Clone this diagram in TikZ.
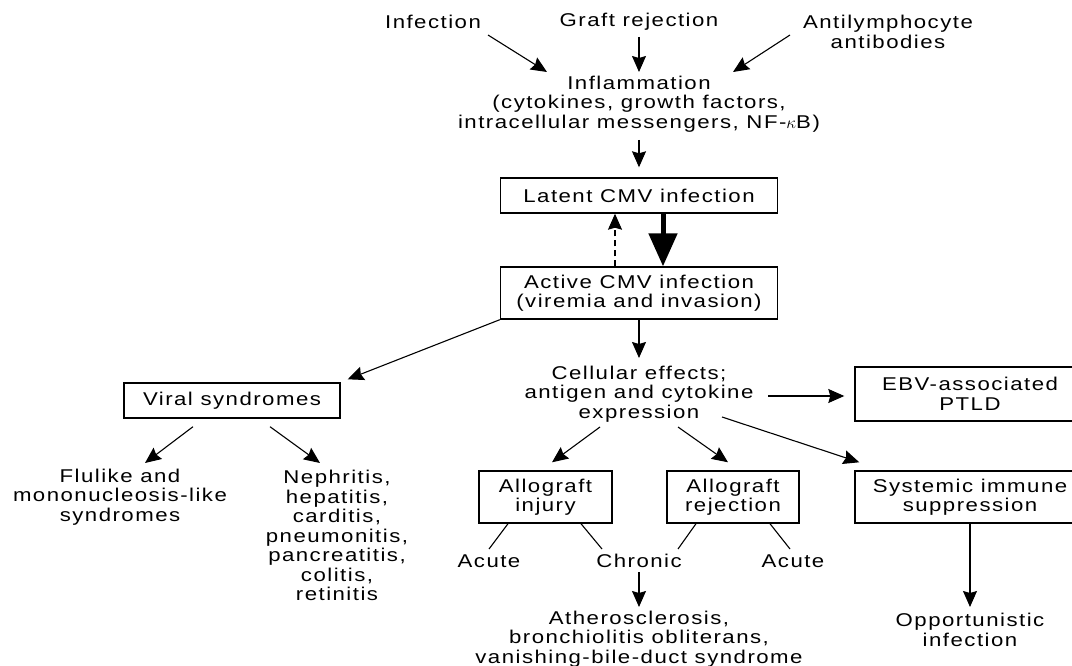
\documentclass[tikz,border=0pt]{standalone}
\usepackage{fontspec}
\setmainfont{Liberation Sans}[FakeStretch=1.2,LetterSpace=8]
\usetikzlibrary{arrows.meta,calc}
\tikzset{
  txt/.style={align=center,inner sep=0pt,font=\fontsize{18.5}{19.5}\selectfont},
  box/.style={txt,draw,line width=1.4pt,minimum height=35pt},
  arr/.style={line width=1.1pt,-{Stealth[length=16pt,width=14pt,inset=2pt]}},
  ln/.style={line width=1.1pt},
}
\begin{document}
\begin{tikzpicture}[x=1pt,y=-1pt]
\useasboundingbox (0,0) rectangle (1072,666);
% text nodes
\node[txt] (inf) at (433,22) {Infection};
\node[txt] (graft) at (639,22) {Graft rejection};
\node[txt] (anti) at (888,32) {Antilymphocyte\\antibodies};
\node[txt] (inflam) at (639,104) {Inflammation\\(cytokines, growth factors,\\intracellular messengers, NF-$\kappa$B)};
\node[box,minimum width=277pt,minimum height=35pt] (latent) at (639,195.5) {Latent CMV infection};
\node[box,minimum width=277pt,minimum height=52pt] (active) at (639,293) {Active CMV infection\\(viremia and invasion)};
\node[box,minimum width=216pt,minimum height=35pt] (viral) at (232,400.5) {Viral syndromes};
\node[txt] (cell) at (639,394) {Cellular effects;\\antigen and cytokine\\expression};
\node[box,minimum width=230pt,minimum height=54pt] (ebv) at (970,394) {EBV-associated\\PTLD};
\node[box,minimum width=230pt,minimum height=52pt] (sys) at (970,497) {Systemic immune\\suppression};
\node[box,minimum width=133pt,minimum height=52pt] (injury) at (545.5,497) {Allograft\\injury};
\node[box,minimum width=132pt,minimum height=52pt] (rej) at (733,497) {Allograft\\rejection};
\node[txt] (acute1) at (489,561) {Acute};
\node[txt] (chronic) at (639,561) {Chronic};
\node[txt] (acute2) at (793,561) {Acute};
\node[txt] (ather) at (639,639) {Atherosclerosis,\\bronchiolitis obliterans,\\vanishing-bile-duct syndrome};
\node[txt] (opp) at (970,630) {Opportunistic\\infection};
\node[txt] (flu) at (120,497) {Flulike and\\mononucleosis-like\\syndromes};
\node[txt] (neph) at (337,535.5) {Nephritis,\\hepatitis,\\carditis,\\pneumonitis,\\pancreatitis,\\colitis,\\retinitis};
% connectors
\draw[arr] ($(inf)+(55,13)$) -- ($(inflam)+(-92,-32)$);
\draw[arr] ($(graft)+(0,15)$) -- ($(inflam)+(0,-32)$);
\draw[arr] ($(anti)+(-98,3)$) -- ($(inflam)+(94,-32)$);
\draw[arr] ($(inflam)+(0,36)$) -- ($(latent.north)+(0,-10)$);
\draw[line width=5pt,-{Triangle[length=33pt,width=28pt]}] ($(latent.south)+(24,0)$) -- ($(active.north)+(24,0)$);
\draw[arr,dash pattern=on 6pt off 4pt] ($(active.north)+(-24,0)$) -- ($(latent.south)+(-24,0)$);
\draw[arr] (active.south west) -- ($(viral.north east)+(7,-3)$);
\draw[arr] (active.south) -- ($(cell)+(0,-36)$);
\draw[arr] ($(cell)+(129,2)$) -- ($(ebv.west)+(-10,2)$);
\draw[arr] ($(cell)+(83,23)$) -- ($(sys.north west)+(5,-8)$);
\draw[arr] ($(cell)+(-39,33)$) -- ($(injury.north)+(6.5,-8)$);
\draw[arr] ($(cell)+(39,33)$) -- ($(rej.north)+(-5,-8)$);
\draw[arr] ($(viral.south)+(-39,8)$) -- ($(flu)+(25,-34)$);
\draw[arr] ($(viral.south)+(38,8)$) -- ($(neph)+(-17,-72.5)$);
\draw[ln] ($(injury.south)+(-37.5,0)$) -- ($(acute1)+(0,-12)$);
\draw[ln] ($(injury.south)+(35.5,0)$) -- ($(chronic)+(-37,-12)$);
\draw[ln] ($(rej.south)+(-37,0)$) -- ($(chronic)+(39,-12)$);
\draw[ln] ($(rej.south)+(37,0)$) -- ($(acute2)+(-3,-12)$);
\draw[arr] ($(chronic)+(0,11)$) -- ($(ather)+(0,-32)$);
\draw[arr] (sys.south) -- ($(opp)+(0,-23)$);
\end{tikzpicture}
\end{document}
